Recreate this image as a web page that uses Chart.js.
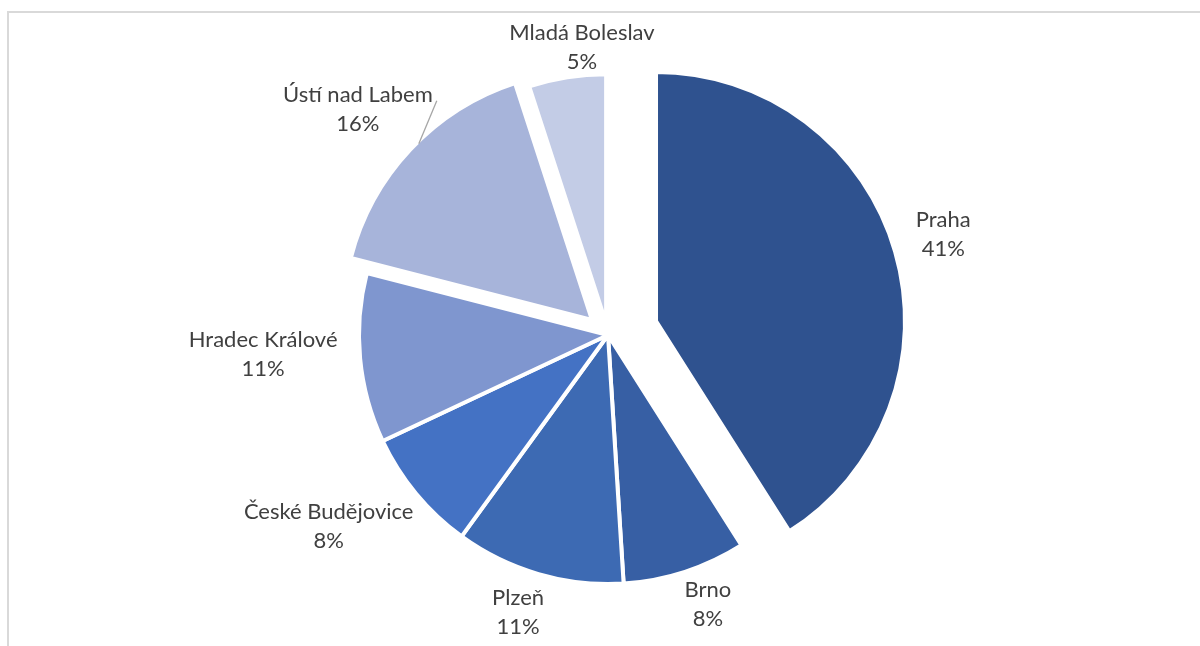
<!DOCTYPE html>
<html lang="cs">
<head>
<meta charset="utf-8">
<title>Podíl měst</title>
<script src="https://cdn.jsdelivr.net/npm/chart.js@4.4.1/dist/chart.umd.min.js"></script>
<style>
  html, body { margin: 0; padding: 0; background: #fff; }
  #wrap { position: relative; width: 1200px; height: 646px; overflow: hidden; }
  #frame { position: absolute; left: 7px; top: 11px; width: 1400px; height: 900px;
           border: 2px solid #d9d9d9; box-sizing: border-box; }
  canvas { position: absolute; left: 0; top: 0; }
</style>
</head>
<body>
<div id="wrap">
  <div id="frame"></div>
  <canvas id="chart" width="1200" height="646"></canvas>
</div>
<script>
// Data
const cities = ['Praha', 'Brno', 'Plzeň', 'České Budějovice', 'Hradec Králové', 'Ústí nad Labem', 'Mladá Boleslav'];
const shares = [41, 8, 11, 8, 11, 16, 5];

// Styling
const sliceColors = ['#2F528F', '#375FA4', '#3D6AB3', '#4472C4', '#7F96CF', '#A7B4DA', '#C3CCE6'];
// how far each slice is pulled out of the pie (px)
const explode = [50, 0, 0, 0, 0, 22, 12];
// label centre relative to the midpoint of the slice's outer edge (px)
const labelShift = [[50, -19], [23.5, 34], [-21, 39.5], [-89, 33], [-99, -4.5], [-54, -42.5], [14.5, -33]];
const leaderLine = [false, false, false, false, false, true, false];
const BORDER = 4;

const total = shares.reduce((a, b) => a + b, 0);

// Draw each arc shifted outwards along its bisector
const explodePlugin = {
  id: 'explodeSlices',
  beforeDatasetDraw(chart, args) {
    const ctx = chart.ctx;
    args.meta.data.forEach((arc, i) => {
      const mid = (arc.startAngle + arc.endAngle) / 2;
      const d = explode[i] || 0;
      ctx.save();
      ctx.translate(Math.cos(mid) * d, Math.sin(mid) * d);
      arc.draw(ctx, chart.chartArea);
      ctx.restore();
    });
    return false;
  }
};

// Category name + percentage outside each slice
const labelPlugin = {
  id: 'sliceLabels',
  afterDatasetsDraw(chart) {
    const ctx = chart.ctx;
    const meta = chart.getDatasetMeta(0);
    ctx.save();
    ctx.font = '22px Lato';
    ctx.fillStyle = '#404040';
    ctx.textAlign = 'center';
    ctx.textBaseline = 'alphabetic';
    meta.data.forEach((arc, i) => {
      const mid = (arc.startAngle + arc.endAngle) / 2;
      const r = arc.outerRadius - BORDER / 2 + explode[i];
      const ex = arc.x + Math.cos(mid) * r;
      const ey = arc.y + Math.sin(mid) * r;
      const cx = ex + labelShift[i][0];
      const cy = ey + labelShift[i][1];
      const pct = Math.round(shares[i] / total * 100) + '%';
      ctx.fillText(cities[i], cx, cy - 14.5 + 8);
      ctx.fillText(pct, cx, cy + 14.5 + 8);
      if (leaderLine[i]) {
        const a = mid + 0.04;
        const sx = arc.x + Math.cos(mid) * explode[i] + Math.cos(a) * (arc.outerRadius - BORDER / 2);
        const sy = arc.y + Math.sin(mid) * explode[i] + Math.sin(a) * (arc.outerRadius - BORDER / 2);
        const w = ctx.measureText(cities[i]).width;
        ctx.beginPath();
        ctx.moveTo(sx, sy);
        ctx.lineTo(cx + w / 2 + 4, cy - 7.5);
        ctx.strokeStyle = '#a6a6a6';
        ctx.lineWidth = 1.3;
        ctx.stroke();
      }
    });
    ctx.restore();
  }
};

new Chart(document.getElementById('chart'), {
  type: 'pie',
  data: {
    labels: cities,
    datasets: [{
      data: shares,
      backgroundColor: sliceColors,
      borderColor: '#ffffff',
      borderWidth: BORDER
    }]
  },
  options: {
    responsive: false,
    animation: false,
    events: [],
    radius: 249,
    layout: { padding: { left: 16, right: 0, top: 24, bottom: 0 } },
    plugins: {
      legend: { display: false },
      tooltip: { enabled: false }
    }
  },
  plugins: [explodePlugin, labelPlugin]
});
</script>
</body>
</html>
